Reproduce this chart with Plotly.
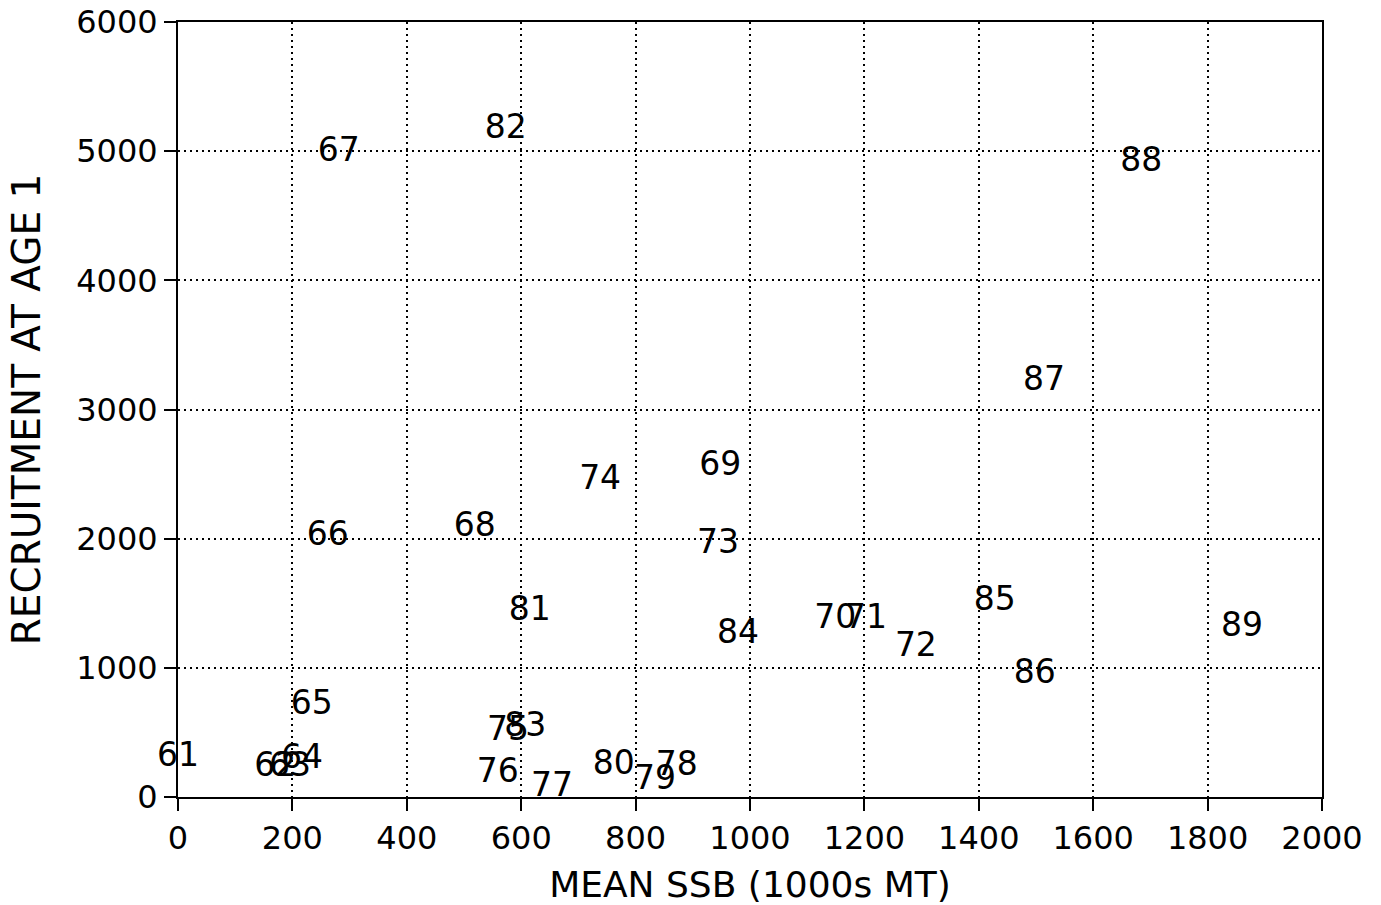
import plotly.graph_objects as go

years = ["61", "62", "63", "64", "65", "66", "67", "68", "69", "70", "71", "72", "73", "74",
         "75", "76", "77", "78", "79", "80", "81", "82", "83", "84", "85", "86", "87", "88", "89"]
ssb = [0, 170, 196, 217, 234, 262, 281, 519, 948, 1149, 1203, 1290, 944, 738,
       577, 559, 654, 872, 834, 762, 615, 573, 607, 979, 1428, 1498, 1514, 1684, 1860]
recruit = [302, 225, 225, 287, 705, 2013, 4986, 2083, 2555, 1370, 1370, 1154, 1951, 2446,
           503, 178, 70, 232, 124, 240, 1432, 5164, 534, 1254, 1510, 945, 3213, 4908, 1308]

x_ticks = [0, 200, 400, 600, 800, 1000, 1200, 1400, 1600, 1800, 2000]
y_ticks = [0, 1000, 2000, 3000, 4000, 5000, 6000]

FONT = "DejaVu Sans, Arial, sans-serif"

fig = go.Figure()
fig.add_trace(go.Scatter(
    x=ssb, y=recruit, mode="text", text=years,
    textposition="middle center",
    textfont=dict(family=FONT, size=33, color="black"),
    showlegend=False, cliponaxis=False,
))

axis_common = dict(
    showline=True, linecolor="black", linewidth=2, mirror=True,
    ticks="outside", ticklen=12, tickwidth=2, tickcolor="black",
    showgrid=True, gridcolor="black", gridwidth=1.5, griddash="2px,4px",
    zeroline=False, automargin=False,
    tickfont=dict(family=FONT, size=32, color="black"),
)

fig.update_xaxes(
    range=[0, 2000], tickvals=x_ticks, ticktext=[str(v) for v in x_ticks],
    title=dict(text="MEAN SSB (1000s MT)", font=dict(family=FONT, size=36, color="black"), standoff=20),
    **axis_common,
)
fig.update_yaxes(
    range=[0, 6000], tickvals=y_ticks, ticktext=[str(v) for v in y_ticks],
    title=dict(text="RECRUITMENT AT AGE 1", font=dict(family=FONT, size=39, color="black"), standoff=24),
    **axis_common,
)

fig.update_layout(
    width=1381, height=905,
    margin=dict(l=178, r=59, t=22, b=108),
    paper_bgcolor="white", plot_bgcolor="white",
)

fig.write_html("out.html")
